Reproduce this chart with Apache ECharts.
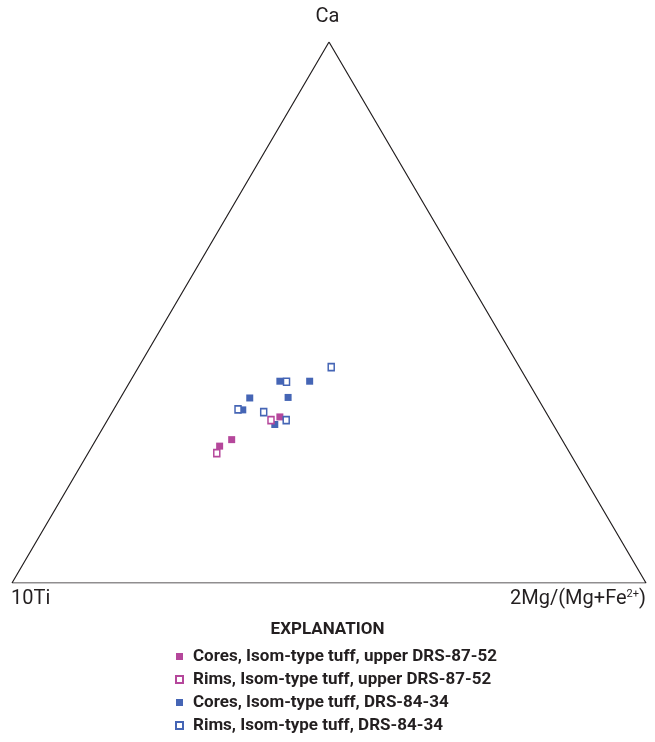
<!DOCTYPE html>
<html>
<head>
<meta charset="utf-8">
<script src="https://cdn.jsdelivr.net/npm/echarts@6/dist/echarts.min.js"></script>
<style>
  html, body { margin: 0; padding: 0; background: #fff; }
  #chart { width: 655px; height: 742px; }
</style>
</head>
<body>
<div id="chart"></div>
<script>
// Ternary compositions (fractions): Ca, 2Mg/(Mg+Fe2+); 10Ti is the remainder.
const coresUpperCa = [0.307, 0.265, 0.253];
const coresUpperMg = [0.269, 0.214, 0.201];
const rimsUpperCa = [0.301, 0.240];
const rimsUpperMg = [0.258, 0.203];
const cores8434Ca = [0.373, 0.373, 0.342, 0.343, 0.320, 0.293];
const cores8434Mg = [0.236, 0.283, 0.204, 0.264, 0.204, 0.268];
const rims8434Ca = [0.399, 0.372, 0.321, 0.316, 0.301];
const rims8434Mg = [0.304, 0.247, 0.196, 0.239, 0.282];

const seriesNames = [
  'Cores, Isom-type tuff, upper DRS-87-52',
  'Rims, Isom-type tuff, upper DRS-87-52',
  'Cores, Isom-type tuff, DRS-84-34',
  'Rims, Isom-type tuff, DRS-84-34'
];

const MAGENTA = '#b5479b';
const BLUE = '#4565b5';

// Ternary -> cartesian: base runs 10Ti (left) to Mg (right), Ca at the apex.
function toXY(ca, mg) {
  return ca.map((c, i) => [mg[i] + c / 2, c]);
}

const FONT = '"Roboto", sans-serif';

function filledSeries(name, ca, mg, color) {
  return {
    name, type: 'scatter', data: toXY(ca, mg), symbol: 'rect', symbolSize: 7,
    itemStyle: { color: color, opacity: 1 }, z: 5
  };
}
function openSeries(name, ca, mg, color) {
  return {
    name, type: 'scatter', data: toXY(ca, mg), symbol: 'rect', symbolSize: [6, 7],
    itemStyle: { color: '#fff', borderColor: color, borderWidth: 1.6, opacity: 1 }, z: 6
  };
}

const chart = echarts.init(document.getElementById('chart'));
chart.setOption({
  animation: false,
  grid: { left: 12, right: 9, top: 42, bottom: 159 },
  xAxis: { type: 'value', min: 0, max: 1, show: false },
  yAxis: { type: 'value', min: 0, max: 1, show: false },
  legend: {
    orient: 'vertical', left: 170, top: 643, itemWidth: 7, itemHeight: 7, itemGap: 6,
    data: seriesNames,
    textStyle: { fontFamily: FONT, fontWeight: 'bold', fontSize: 17, color: '#231f20', padding: [0, 0, 0, 5] }
  },
  graphic: [
    { type: 'text', left: 'center', top: 7, style: { text: 'Ca', font: '20px ' + FONT, fill: '#231f20' } },
    { type: 'text', left: 11, top: 589, style: { text: '10Ti', font: '20px ' + FONT, fill: '#231f20' } },
    { type: 'text', right: 9, top: 589, style: {
        text: '2Mg/(Mg+Fe{sup|2+})', font: '20px ' + FONT, fill: '#231f20',
        rich: { sup: { fontSize: 11, verticalAlign: 'top', padding: [0, 0, 9, 0], fontFamily: FONT, fill: '#231f20' } }
    } },
    { type: 'text', left: 'center', top: 621, style: { text: 'EXPLANATION', font: 'bold 17px ' + FONT, fill: '#231f20' } }
  ],
  series: [
    {
      type: 'line', data: [[0, 0], [1, 0], [0.5, 1], [0, 0]], symbol: 'none', silent: true,
      lineStyle: { color: '#231f20', width: 1.2 }, z: 1
    },
    filledSeries(seriesNames[0], coresUpperCa, coresUpperMg, MAGENTA),
    openSeries(seriesNames[1], rimsUpperCa, rimsUpperMg, MAGENTA),
    filledSeries(seriesNames[2], cores8434Ca, cores8434Mg, BLUE),
    openSeries(seriesNames[3], rims8434Ca, rims8434Mg, BLUE)
  ]
});
</script>
</body>
</html>
